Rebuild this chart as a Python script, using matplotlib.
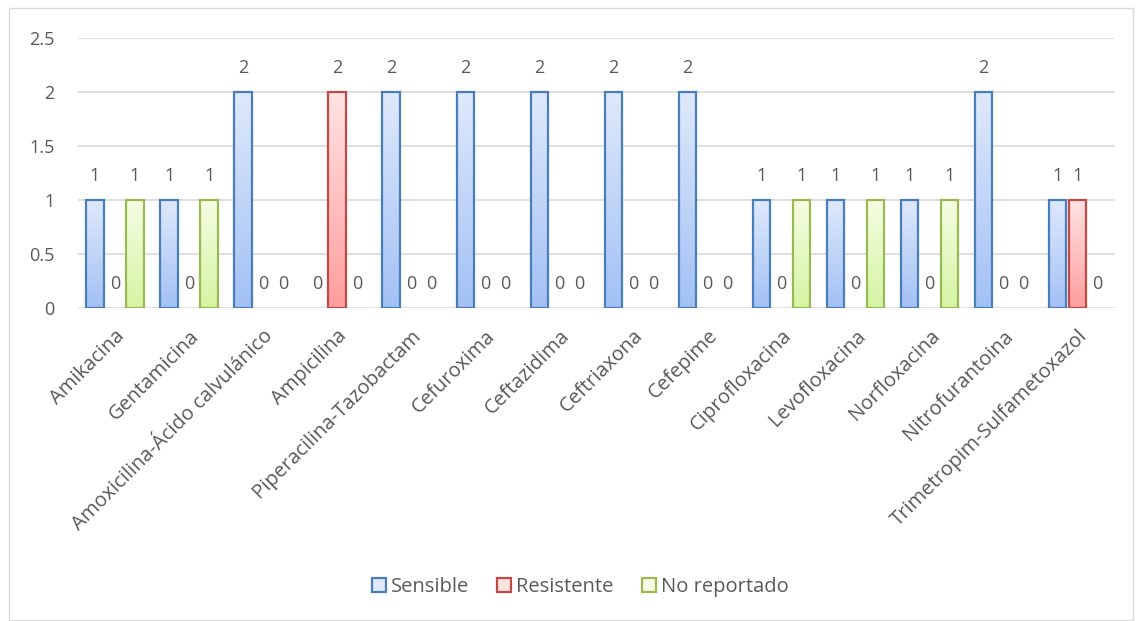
import numpy as np
import matplotlib.pyplot as plt
from matplotlib.colors import LinearSegmentedColormap
from matplotlib.patches import Rectangle, Patch

plt.rcParams["font.family"] = ["Open Sans", "DejaVu Sans"]

categories = [
    "Amikacina", "Gentamicina", "Amoxicilina-Ácido calvulánico", "Ampicilina",
    "Piperacilina-Tazobactam", "Cefuroxima", "Ceftazidima", "Ceftriaxona",
    "Cefepime", "Ciprofloxacina", "Levofloxacina", "Norfloxacina",
    "Nitrofurantoina", "Trimetropim-Sulfametoxazol",
]
sensible = [1, 1, 2, 0, 2, 2, 2, 2, 2, 1, 1, 1, 2, 1]
resistente = [0, 0, 0, 2, 0, 0, 0, 0, 0, 0, 0, 0, 0, 1]
no_reportado = [1, 1, 0, 0, 0, 0, 0, 0, 0, 1, 1, 1, 0, 0]

series = [
    ("Sensible", sensible, "#dfe9fb", "#a3c1f5", "#4a7ebb"),
    ("Resistente", resistente, "#ffe3e3", "#ff9e9e", "#be4b48"),
    ("No reportado", no_reportado, "#f5fde3", "#d5f4a3", "#98b954"),
]

TEXT = "#595959"
GRID = "#d9d9d9"

fig = plt.figure(figsize=(11.42, 6.21), dpi=100)
ax = fig.add_axes([0.0683, 0.504, 0.9077, 0.435])

x = np.arange(len(categories))
pitch = 0.27
width = 0.235

for i, (name, vals, top, bottom, edge) in enumerate(series):
    cmap = LinearSegmentedColormap.from_list(name, [bottom, top])
    grad = np.linspace(0, 1, 100).reshape(-1, 1)
    for xi, v in zip(x, vals):
        xc = xi + (i - 1) * pitch
        if v > 0:
            ax.imshow(grad, cmap=cmap, origin="lower", aspect="auto",
                      extent=[xc - width / 2, xc + width / 2, 0, v], zorder=2)
            ax.add_patch(Rectangle((xc - width / 2, 0), width, v, facecolor="none",
                                   edgecolor=edge, linewidth=1.6, zorder=3))
        ax.annotate(f"{v:g}", xy=(xc, v), xytext=(0, 17), textcoords="offset points",
                    ha="center", va="center", fontsize=13, color=TEXT)

ax.set_xlim(-0.5, len(categories) - 0.5)
ax.set_ylim(0, 2.5)
ax.set_yticks(np.arange(0, 2.51, 0.5))
ax.set_yticklabels(["0", "0.5", "1", "1.5", "2", "2.5"])
ax.grid(axis="y", color=GRID, linewidth=1.2, zorder=0)
ax.set_axisbelow(True)
for s in ax.spines.values():
    s.set_visible(False)
ax.tick_params(axis="both", length=0, labelcolor=TEXT, labelsize=13)
ax.tick_params(axis="y", pad=17)

ax.set_xticks(x)
ax.set_xticklabels(categories, rotation=45, ha="right", va="top",
                   rotation_mode="anchor", fontsize=14.5)
ax.tick_params(axis="x", pad=13)

handles = [Patch(facecolor=s[2], edgecolor=s[4], linewidth=1.6) for s in series]
fig.legend(handles, [s[0] for s in series], loc="center", bbox_to_anchor=(0.508, 0.055),
           ncol=3, frameon=False, fontsize=14.5, handlelength=0.7, handleheight=0.7,
           handletextpad=0.25, columnspacing=1.4, labelcolor=TEXT)

fig.patches.append(Rectangle((9 / 1142, 1 / 621), 1124 / 1142, 612 / 621,
                             transform=fig.transFigure, facecolor="none",
                             edgecolor="#d9d9d9", linewidth=1.0))

fig.savefig("out.png", dpi=100)
